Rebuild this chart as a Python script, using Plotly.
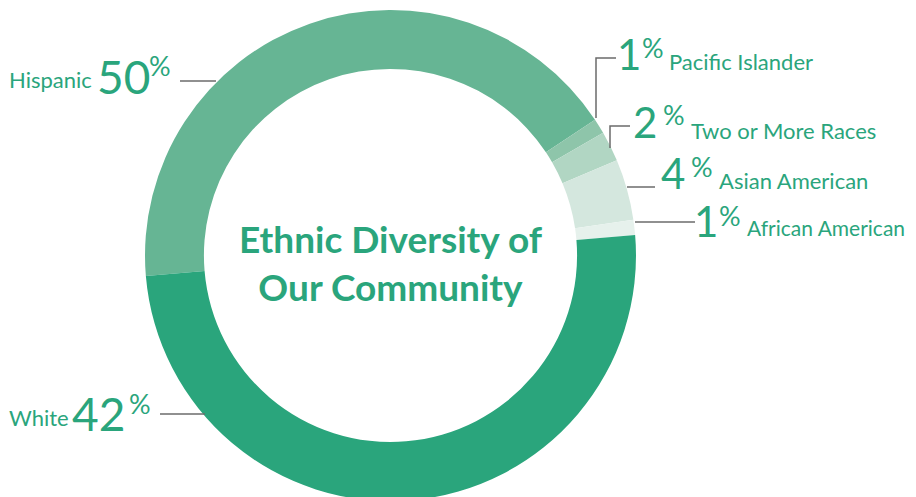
import plotly.graph_objects as go

# ---- data ----
categories = ["Hispanic", "Pacific Islander", "Two or More Races",
              "Asian American", "African American", "White"]
slice_values = [42, 1, 2, 4, 1, 50]          # angular size of each drawn slice
percent_labels = ["50", "1", "2", "4", "1", "42"]  # printed percentages
slice_colors = ["#66b594", "#8ec5aa", "#b1d6c3", "#d4e7de", "#e6f1ec", "#2aa57c"]

TEXT = "#2aa57c"
LINE = "#6b6b6b"
W, H = 916, 497
OFF = 8  # page offset of the figure (body margin)


def px(x):
    return max(0.0, (x - OFF) / W)


def py(y):
    return (H + OFF - y) / H


# label layout in page pixels: name, number, percent sign, leader line, name size
label_layout = {
    "Hispanic":          dict(name=(6, 80),    num=(96, 76),   pct=(148, 66),  big=46, ns=22,
                              line=[(180, 81), (216, 81)]),
    "White":             dict(name=(6, 417),   num=(71, 413),  pct=(128, 403), big=46, ns=22,
                              line=[(160, 414), (205, 414)]),
    "Pacific Islander":  dict(name=(668, 61),  num=(616, 54),  pct=(641, 48),  big=42, ns=22,
                              line=[(616, 58), (596, 58), (596, 118)]),
    "Two or More Races": dict(name=(690, 130), num=(632, 122), pct=(662, 115), big=42, ns=22,
                              line=[(630, 126), (610, 126), (610, 148)]),
    "Asian American":    dict(name=(718, 180), num=(660, 173), pct=(690, 166), big=42, ns=22,
                              line=[(627, 187), (655, 187)]),
    "African American":  dict(name=(746, 227), num=(693, 221), pct=(718, 216), big=42, ns=21,
                              line=[(635, 222), (695, 222)]),
}

fig = go.Figure()

fig.add_trace(go.Pie(
    labels=categories,
    values=slice_values,
    marker=dict(colors=slice_colors, line=dict(width=0)),
    hole=0.76,
    sort=False,
    direction="clockwise",
    rotation=-94.8,
    textinfo="none",
    hoverinfo="none",
    showlegend=False,
    domain=dict(x=[(145 - OFF) / W, (636 - OFF) / W],
                y=[(H + OFF - 501) / H, (H + OFF - 10) / H]),
))

annotations = []
shapes = []


def add_text(pos, text, size, **font_kw):
    annotations.append(dict(x=px(pos[0]), y=py(pos[1]), xref="paper", yref="paper",
                            text=text, xanchor="left", yanchor="middle",
                            showarrow=False, borderpad=0,
                            font=dict(family="Lato", size=size, color=TEXT, **font_kw)))


for cat, pct in zip(categories, percent_labels):
    L = label_layout[cat]
    add_text(L["name"], cat, L["ns"])
    add_text(L["num"], pct, L["big"])
    add_text(L["pct"], "%", 27)
    pts = L["line"]
    path = "M " + " L ".join(f"{x},{y}" for x, y in pts)
    shapes.append(dict(type="path", path=path, xref="x", yref="y",
                       line=dict(color=LINE, width=1.5)))

annotations.append(dict(x=px(390.5), y=py(262), xref="paper", yref="paper",
                        text="Ethnic Diversity of<br>Our Community",
                        xanchor="center", yanchor="middle", showarrow=False,
                        font=dict(family="Lato", size=37, color=TEXT, weight="bold")))

fig.update_layout(
    width=W, height=H,
    margin=dict(l=0, r=0, t=0, b=0),
    paper_bgcolor="white", plot_bgcolor="rgba(0,0,0,0)",
    xaxis=dict(range=[OFF, W + OFF], visible=False, fixedrange=True),
    yaxis=dict(range=[H + OFF, OFF], visible=False, fixedrange=True),
    annotations=annotations,
    shapes=shapes,
)

fig.write_html("out.html")
